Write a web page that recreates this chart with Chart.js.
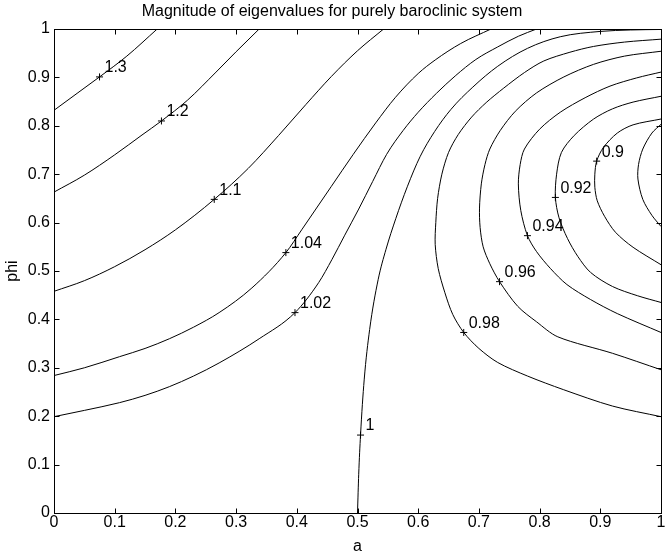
<!DOCTYPE html>
<html lang="en">
<head>
    <meta charset="UTF-8">
    <title>Magnitude of eigenvalues for purely baroclinic system</title>
    <script src="https://cdn.jsdelivr.net/npm/chart.js"></script>
    <style>
        body { margin: 0; background: #fff; }
        #chart { display: block; }
    </style>
</head>
<body>
    <canvas id="chart" width="666" height="557"></canvas>

    <script>
        // ticks on both axes
        const xTicks = [0, 0.1, 0.2, 0.3, 0.4, 0.5, 0.6, 0.7, 0.8, 0.9, 1];
        const yTicks = [0, 0.1, 0.2, 0.3, 0.4, 0.5, 0.6, 0.7, 0.8, 0.9, 1];

        // contour lines, points are [a, phi]
        // left family (a increases along the line)
        const c130 = [[0, 0.832], [0.038, 0.867], [0.075, 0.901], [0.12, 0.944], [0.17, 1.0]];
        const c120 = [[0, 0.663], [0.05, 0.698], [0.10, 0.740], [0.145, 0.781], [0.177, 0.810], [0.22, 0.853],
            [0.267, 0.911], [0.30, 0.953], [0.338, 1.0]];
        const c110 = [[0, 0.458], [0.05, 0.480], [0.10, 0.509], [0.15, 0.544], [0.20, 0.585], [0.264, 0.648],
            [0.32, 0.712], [0.37, 0.780], [0.415, 0.844], [0.457, 0.902], [0.50, 0.955], [0.543, 1.0]];
        const c104 = [[0, 0.284], [0.05, 0.300], [0.108, 0.323], [0.15, 0.340], [0.19, 0.360], [0.23, 0.384],
            [0.272, 0.414], [0.326, 0.465], [0.382, 0.538], [0.408, 0.585], [0.457, 0.675], [0.493, 0.741],
            [0.53, 0.806], [0.562, 0.858], [0.60, 0.908], [0.628, 0.936], [0.67, 0.970], [0.72, 1.0]];
        const c102 = [[0, 0.199], [0.05, 0.212], [0.108, 0.228], [0.15, 0.243], [0.19, 0.261], [0.23, 0.283],
            [0.272, 0.310], [0.338, 0.360], [0.397, 0.414], [0.436, 0.476], [0.458, 0.524], [0.479, 0.574],
            [0.502, 0.628], [0.525, 0.685], [0.548, 0.741], [0.575, 0.790], [0.60, 0.828], [0.63, 0.867],
            [0.661, 0.903], [0.695, 0.937], [0.731, 0.963], [0.765, 0.985], [0.795, 1.0]];
        const c100 = [[0.5, 0], [0.502, 0.08], [0.505, 0.161], [0.511, 0.275], [0.520, 0.379], [0.534, 0.482],
            [0.547, 0.545], [0.563, 0.608], [0.582, 0.674], [0.603, 0.736], [0.627, 0.788], [0.654, 0.834],
            [0.69, 0.88], [0.731, 0.923], [0.78, 0.96], [0.834, 0.984], [0.9, 0.995], [0.95, 0.998], [1.0, 0.999]];

        // right family (lines turn back to the right edge)
        const c098 = [[1.0, 0.199], [0.92, 0.221], [0.839, 0.255], [0.78, 0.283], [0.731, 0.311], [0.700, 0.340],
            [0.675, 0.373], [0.657, 0.41], [0.644, 0.455], [0.633, 0.505], [0.628, 0.555], [0.629, 0.60],
            [0.632, 0.65], [0.639, 0.70], [0.650, 0.745], [0.666, 0.782], [0.688, 0.818], [0.712, 0.848],
            [0.741, 0.878], [0.775, 0.910], [0.807, 0.934], [0.85, 0.952], [0.889, 0.964], [0.94, 0.973], [1.0, 0.979]];
        const c096 = [[1.0, 0.296], [0.92, 0.33], [0.83, 0.364], [0.795, 0.395], [0.764, 0.427], [0.734, 0.478],
            [0.718, 0.515], [0.707, 0.55], [0.702, 0.59], [0.701, 0.63], [0.704, 0.68], [0.710, 0.72],
            [0.718, 0.752], [0.735, 0.79], [0.76, 0.83], [0.795, 0.868], [0.84, 0.901], [0.889, 0.927],
            [0.94, 0.944], [1.0, 0.954]];
        const c094 = [[1.0, 0.373], [0.928, 0.412], [0.884, 0.441], [0.845, 0.472], [0.818, 0.505], [0.795, 0.540],
            [0.780, 0.573], [0.769, 0.625], [0.765, 0.68], [0.768, 0.72], [0.775, 0.752], [0.80, 0.793],
            [0.834, 0.828], [0.875, 0.858], [0.916, 0.882], [0.96, 0.899], [1.0, 0.911]];
        const c092 = [[1.0, 0.435], [0.961, 0.449], [0.920, 0.468], [0.884, 0.497], [0.863, 0.53],
            [0.846, 0.567], [0.832, 0.61], [0.826, 0.652], [0.828, 0.70], [0.836, 0.745], [0.857, 0.78],
            [0.889, 0.814], [0.92, 0.835], [0.954, 0.849], [1.0, 0.861]];
        const c090 = [[1.0, 0.513], [0.954, 0.549], [0.925, 0.58], [0.907, 0.613], [0.895, 0.645], [0.891, 0.673],
            [0.891, 0.70], [0.894, 0.727], [0.905, 0.755], [0.928, 0.785], [0.954, 0.802], [1.0, 0.814]];
        const c088 = [[1.0, 0.803], [0.985, 0.785], [0.970, 0.752], [0.963, 0.72], [0.962, 0.69], [0.970, 0.648],
            [0.985, 0.615], [1.0, 0.592]];

        const leftLines = [c130, c120, c110, c104, c102, c100];
        const rightLines = [c098, c096, c094, c092, c090, c088];

        // inline labels and where the "+" sits for each
        const levelLabels = ['1.3', '1.2', '1.1', '1.04', '1.02', '1', '0.98', '0.96', '0.94', '0.92', '0.9'];
        const labelPoints = [[0.075, 0.901], [0.177, 0.810], [0.264, 0.648], [0.382, 0.538], [0.397, 0.414],
            [0.505, 0.161], [0.675, 0.373], [0.734, 0.478], [0.780, 0.573], [0.826, 0.652], [0.894, 0.727]];

        const FONT = '"Liberation Sans", Arial, Helvetica, sans-serif';
        const toXY = pts => pts.map(p => ({ x: p[0], y: p[1] }));

        // matlab style box with inward ticks + contour labels
        const matlabBox = {
            id: 'matlabBox',
            afterDatasetsDraw(chart) {
                const { ctx, chartArea: ca, scales: { x, y } } = chart;
                const L = Math.round(ca.left) + 0.5, R = Math.round(ca.right) + 0.5;
                const T = Math.round(ca.top) + 0.5, B = Math.round(ca.bottom) + 0.5;
                const len = 5;
                ctx.save();
                ctx.strokeStyle = '#000';
                ctx.lineWidth = 1;
                ctx.strokeRect(L, T, R - L, B - T);
                ctx.beginPath();
                xTicks.forEach(v => {
                    const px = Math.round(x.getPixelForValue(v)) + 0.5;
                    ctx.moveTo(px, B); ctx.lineTo(px, B - len);
                    ctx.moveTo(px, T); ctx.lineTo(px, T + len);
                });
                yTicks.forEach(v => {
                    const py = Math.round(y.getPixelForValue(v)) + 0.5;
                    ctx.moveTo(L, py); ctx.lineTo(L + len, py);
                    ctx.moveTo(R, py); ctx.lineTo(R - len, py);
                });
                ctx.stroke();

                ctx.fillStyle = '#000';
                ctx.font = '16px ' + FONT;
                ctx.textAlign = 'left';
                ctx.textBaseline = 'middle';
                levelLabels.forEach((txt, i) => {
                    const px = x.getPixelForValue(labelPoints[i][0]);
                    const py = y.getPixelForValue(labelPoints[i][1]);
                    ctx.fillText(txt, px + 5, py - 9);
                });
                ctx.restore();
            }
        };

        const lineStyle = { showLine: true, borderColor: '#000', borderWidth: 1, pointRadius: 0, fill: false };
        const datasets = [
            ...leftLines.map(pts => ({ ...lineStyle, data: toXY(pts), cubicInterpolationMode: 'monotone' })),
            ...rightLines.map(pts => ({ ...lineStyle, data: toXY(pts), tension: 0.3 })),
            {
                data: toXY(labelPoints),
                showLine: false,
                pointStyle: 'cross',
                pointRadius: 3.5,
                borderColor: '#000',
                borderWidth: 1
            }
        ];

        const tickFont = { family: FONT, size: 16 };

        new Chart(document.getElementById('chart'), {
            type: 'scatter',
            data: { datasets },
            options: {
                responsive: false,
                animation: false,
                layout: { padding: { left: 0, right: 2, top: 0, bottom: 0 } },
                plugins: {
                    legend: { display: false },
                    tooltip: { enabled: false },
                    title: {
                        display: true,
                        text: 'Magnitude of eigenvalues for purely baroclinic system',
                        color: '#000',
                        font: { family: FONT, size: 16, weight: 'normal' },
                        padding: { top: 2.1, bottom: 7.7 }
                    }
                },
                scales: {
                    x: {
                        type: 'linear',
                        min: 0,
                        max: 1,
                        grid: { display: false, drawTicks: false },
                        border: { display: false },
                        ticks: {
                            autoSkip: false,
                            padding: 0,
                            color: '#000',
                            font: tickFont,
                            callback: v => String(Math.round(v * 10) / 10)
                        },
                        afterBuildTicks: s => { s.ticks = xTicks.map(v => ({ value: v })); },
                        afterFit: s => { s.height = 44; s.paddingLeft = 0; s.paddingRight = 0; },
                        title: { display: true, text: 'a', color: '#000', font: tickFont, padding: { top: 0, bottom: 1 } }
                    },
                    y: {
                        type: 'linear',
                        min: 0,
                        max: 1,
                        grid: { display: false, drawTicks: false },
                        border: { display: false },
                        ticks: {
                            autoSkip: false,
                            padding: 4,
                            color: '#000',
                            font: tickFont,
                            callback: v => String(Math.round(v * 10) / 10)
                        },
                        afterBuildTicks: s => { s.ticks = yTicks.map(v => ({ value: v })); },
                        afterFit: s => { s.width = 54; s.paddingTop = 0; s.paddingBottom = 0; },
                        title: { display: true, text: 'phi', color: '#000', font: tickFont, padding: { top: 3, bottom: 0 } }
                    }
                }
            },
            plugins: [matlabBox]
        });
    </script>
</body>
</html>
